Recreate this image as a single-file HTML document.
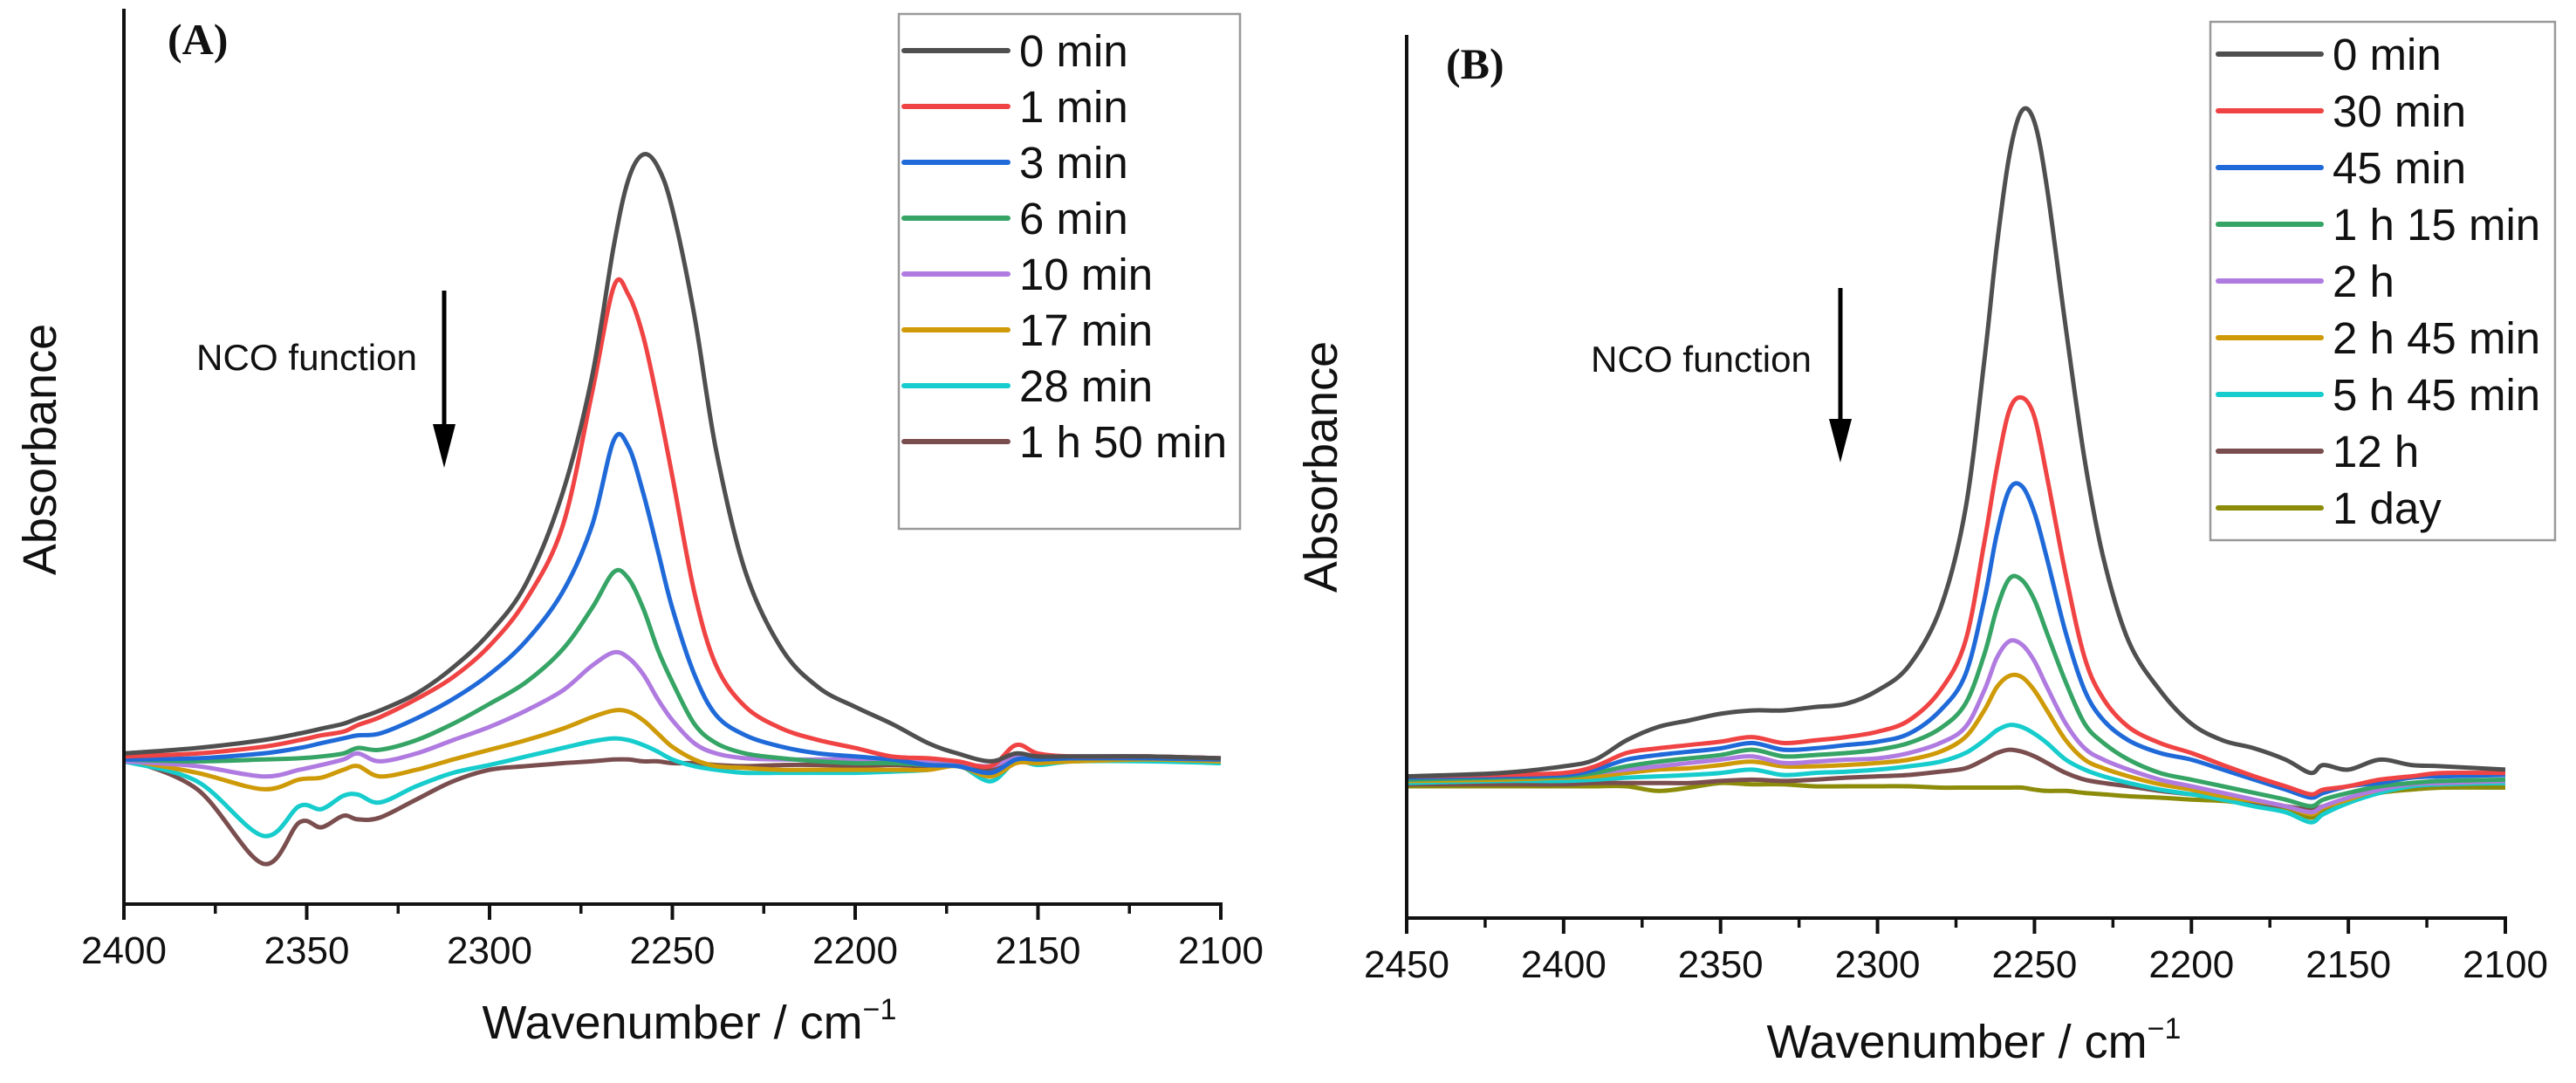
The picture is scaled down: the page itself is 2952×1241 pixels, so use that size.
<!DOCTYPE html>
<html><head><meta charset="utf-8"><style>
html,body{margin:0;padding:0;background:#fff;}
svg{display:block;font-family:"Liberation Sans",Arial,sans-serif;}
</style></head><body>
<svg id="chart" width="2952" height="1241" viewBox="0 0 2952 1241" xmlns="http://www.w3.org/2000/svg">
<g id="panelA"></g>
<g id="panelB"></g>
</svg>
<script>
// ---------- Panel A data ----------
const wavenumbersA = [2400,2380,2362,2352,2346,2340,2336,2330,2320,2310,2300,2290,2280,2272,2266,2262,2258,2254,2250,2244,2238,2230,2220,2210,2200,2190,2180,2172,2163,2156,2150,2140,2120,2100];
const seriesNamesA = ["0 min","1 min","3 min","6 min","10 min","17 min","28 min","1 h 50 min"];
const a0min  = [.005,.014,.027,.038,.046,.054,.063,.076,.104,.147,.204,.286,.436,.627,.845,.954,.995,.975,.905,.730,.505,.305,.177,.114,.082,.054,.022,.005,-.008,.005,0,0,0,-.003];
const a1min  = [0,.005,.016,.027,.035,.041,.052,.065,.095,.131,.183,.259,.381,.600,.777,.763,.695,.586,.463,.272,.150,.082,.046,.027,.014,0,-.003,-.008,-.016,.019,.005,0,0,-.003];
const a3min  = [-.005,-.003,.005,.014,.022,.030,.035,.038,.063,.095,.136,.191,.272,.381,.523,.512,.436,.341,.245,.136,.068,.035,.016,.005,0,-.005,-.014,-.016,-.027,-.005,-.005,-.003,-.003,-.005];
const a6min  = [-.005,-.008,-.005,-.003,0,.005,.014,.011,.027,.054,.087,.123,.177,.245,.305,.294,.245,.177,.123,.054,.022,.005,-.003,-.008,-.011,-.011,-.014,-.016,-.027,-.005,-.005,-.003,-.003,-.005];
const a10min = [-.008,-.016,-.033,-.022,-.014,-.005,.005,-.008,.005,.027,.049,.076,.109,.150,.172,.163,.136,.095,.060,.022,.005,-.003,-.005,-.005,-.005,-.008,-.008,-.011,-.016,0,-.003,0,0,-.003];
const a17min = [-.005,-.027,-.054,-.038,-.035,-.022,-.016,-.033,-.022,-.005,.011,.027,.046,.065,.076,.074,.060,.038,.016,-.005,-.016,-.019,-.022,-.022,-.022,-.022,-.022,-.016,-.033,-.011,-.011,-.008,-.005,-.008];
const a28min = [-.008,-.041,-.131,-.082,-.087,-.065,-.063,-.076,-.049,-.027,-.014,0,.014,.025,.030,.027,.019,.008,-.005,-.016,-.022,-.027,-.027,-.027,-.027,-.025,-.022,-.014,-.041,-.008,-.014,-.008,-.008,-.011];
const a110min= [-.003,-.054,-.177,-.109,-.117,-.098,-.104,-.101,-.071,-.041,-.022,-.016,-.011,-.008,-.005,-.005,-.008,-.008,-.011,-.011,-.014,-.016,-.014,-.014,-.016,-.014,-.016,-.011,-.022,-.005,-.008,-.003,-.003,-.005];
const ticksA = [2400,2350,2300,2250,2200,2150,2100];
const minorTicksA = [2375,2325,2275,2225,2175,2125];

// ---------- Panel B data ----------
const wavenumbersB = [2450,2420,2400,2390,2380,2370,2360,2350,2340,2330,2320,2310,2300,2290,2280,2272,2266,2262,2258,2254,2250,2246,2240,2234,2228,2220,2210,2200,2190,2180,2170,2162,2158,2150,2140,2130,2120,2100];
const seriesNamesB = ["0 min","30 min","45 min","1 h 15 min","2 h","2 h 45 min","5 h 45 min","12 h","1 day"];
const b0min   = [0,.005,.015,.025,.054,.074,.084,.094,.099,.099,.104,.109,.129,.166,.252,.401,.624,.797,.933,1.0,.983,.884,.673,.475,.327,.203,.129,.079,.054,.042,.025,.005,.017,.010,.025,.017,.015,.010];
const b30min  = [0,.002,.005,.015,.035,.042,.047,.052,.059,.050,.054,.059,.067,.084,.129,.203,.351,.463,.550,.569,.540,.450,.302,.178,.116,.074,.050,.035,.017,0,-.015,-.027,-.020,-.015,-.005,0,.005,.005];
const b45min  = [-.002,0,.002,.010,.025,.032,.037,.042,.050,.040,.042,.047,.052,.064,.099,.153,.265,.364,.431,.436,.396,.327,.215,.129,.084,.054,.035,.025,.010,-.005,-.020,-.032,-.025,-.015,-.010,-.002,0,.002];
const b1h15   = [-.005,-.002,0,.005,.015,.022,.027,.032,.040,.030,.032,.035,.040,.050,.072,.109,.183,.252,.297,.295,.265,.215,.141,.079,.050,.025,.005,-.005,-.015,-.025,-.035,-.045,-.035,-.025,-.015,-.010,-.007,-.005];
const b2h     = [-.005,-.002,0,.005,.010,.015,.020,.025,.030,.020,.022,.025,.027,.035,.050,.074,.129,.178,.203,.198,.173,.134,.079,.042,.025,.010,-.005,-.015,-.025,-.035,-.045,-.054,-.045,-.032,-.020,-.012,-.010,-.007];
const b2h45   = [-.007,-.005,-.002,0,.005,.010,.012,.017,.022,.015,.015,.017,.020,.025,.037,.059,.099,.134,.151,.149,.129,.099,.054,.025,.012,0,-.012,-.020,-.030,-.037,-.045,-.057,-.047,-.035,-.020,-.012,-.010,-.007];
const b5h45   = [-.010,-.007,-.007,-.005,-.002,0,.002,.005,.010,.002,.005,.007,.010,.015,.022,.035,.054,.069,.077,.074,.064,.050,.025,.010,0,-.010,-.020,-.027,-.035,-.045,-.054,-.069,-.057,-.040,-.025,-.015,-.012,-.010];
const b12h    = [-.012,-.012,-.012,-.010,-.010,-.010,-.010,-.007,-.005,-.007,-.005,-.002,0,.002,.007,.012,.025,.035,.040,.037,.030,.020,.005,-.005,-.010,-.015,-.022,-.027,-.032,-.040,-.045,-.050,-.045,-.035,-.022,-.015,-.012,-.010];
const b1day   = [-.015,-.015,-.015,-.015,-.015,-.022,-.017,-.010,-.012,-.012,-.015,-.015,-.015,-.015,-.017,-.017,-.017,-.017,-.017,-.017,-.020,-.022,-.022,-.025,-.027,-.030,-.032,-.035,-.037,-.042,-.047,-.062,-.050,-.037,-.025,-.020,-.017,-.017];
const ticksB = [2450,2400,2350,2300,2250,2200,2150,2100];
const minorTicksB = [2425,2375,2325,2275,2225,2175,2125];

const colorsA = ["#4f4f4f","#f04343","#1f6ad8","#35a465","#b07be0","#cf9a08","#16cccc","#7a4e4e"];
const colorsB = ["#4f4f4f","#f04343","#1f6ad8","#35a465","#b07be0","#cf9a08","#16cccc","#7a4e4e","#8c8c0a"];

const NS = "http://www.w3.org/2000/svg";
function mk(parent, tag, attrs, text){
  const e = document.createElementNS(NS, tag);
  for (const k in attrs) e.setAttribute(k, attrs[k]);
  if (text !== undefined) e.textContent = text;
  parent.appendChild(e);
  return e;
}
function smoothPath(pts){
  let d = "M" + pts[0][0].toFixed(1) + "," + pts[0][1].toFixed(1);
  for (let i = 0; i < pts.length - 1; i++){
    const p0 = pts[i-1] || pts[i], p1 = pts[i], p2 = pts[i+1], p3 = pts[i+2] || p2;
    const c1x = p1[0] + (p2[0]-p0[0])/6, c1y = p1[1] + (p2[1]-p0[1])/6;
    const c2x = p2[0] - (p3[0]-p1[0])/6, c2y = p2[1] - (p3[1]-p1[1])/6;
    d += " C" + c1x.toFixed(1)+","+c1y.toFixed(1)+" "+c2x.toFixed(1)+","+c2y.toFixed(1)+" "+p2[0].toFixed(1)+","+p2[1].toFixed(1);
  }
  return d;
}

function drawPanel(g, cfg){
  const xS = w => cfg.x0 + (cfg.w0 - w) / (cfg.w0 - cfg.w1) * (cfg.x1 - cfg.x0);
  const yS = v => cfg.yb + (v - cfg.vmin) / (cfg.vmax - cfg.vmin) * (cfg.yt - cfg.yb);

  const sg = mk(g, "g", {});
  
  
  for (let s = cfg.series.length - 1; s >= 0; s--){
    const pts = cfg.wn.map((w, i) => [xS(w), yS(cfg.series[s][i])]);
    const p = mk(sg, "path", {d: smoothPath(pts), fill: "none", stroke: cfg.colors[s], "stroke-width": 5, "stroke-linejoin": "round"});
    
    
  }

  const yAx = mk(g, "line", {x1: cfg.x0, y1: cfg.yt, x2: cfg.x0, y2: cfg.yb + 2, stroke: "#111", "stroke-width": 4});
  
  
  const xAx = mk(g, "line", {x1: cfg.x0 - 2, y1: cfg.yb, x2: cfg.x1 + 2, y2: cfg.yb, stroke: "#111", "stroke-width": 4});
  
  
  for (const t of cfg.ticks){
    const x = xS(t);
    const tk = mk(g, "line", {x1: x, y1: cfg.yb, x2: x, y2: cfg.yb + 18, stroke: "#111", "stroke-width": 4});
    
    
    const lb = mk(g, "text", {x: x, y: cfg.yb + 68, "font-size": 44, "text-anchor": "middle", fill: "#111"}, String(t));
    
    
  }
  for (const t of cfg.minor){
    const x = xS(t);
    const tk = mk(g, "line", {x1: x, y1: cfg.yb, x2: x, y2: cfg.yb + 11, stroke: "#111", "stroke-width": 3.5});
    
    
  }
  const xt = mk(g, "text", {x: cfg.xtX, y: cfg.xtY, "font-size": 54, "text-anchor": "middle", fill: "#111"});
  
  
  mk(xt, "tspan", {}, "Wavenumber / cm");
  mk(xt, "tspan", {dy: -22, "font-size": 34}, "\u22121");
  const yt = mk(g, "text", {x: 0, y: 0, "font-size": 54, "text-anchor": "middle", fill: "#111", transform: "translate(" + cfg.ytX + "," + cfg.ytY + ") rotate(-90)"}, "Absorbance");
  
  
  const pl = mk(g, "text", {x: cfg.plX, y: cfg.plY, "font-size": 50, "font-weight": "bold", "font-family": "Liberation Serif, serif", fill: "#111"}, cfg.label);
  
  
  const an = mk(g, "text", {x: cfg.ncoX, y: cfg.ncoY, "font-size": 42, fill: "#111", textLength: 253, lengthAdjust: "spacingAndGlyphs"}, "NCO function");
  
  
  const ar = mk(g, "line", {x1: cfg.arX, y1: cfg.arY0, x2: cfg.arX, y2: cfg.arY1 - 40, stroke: "#000", "stroke-width": 5});
  
  
  const ah = mk(g, "polygon", {points: (cfg.arX-13)+","+(cfg.arY1-50)+" "+(cfg.arX+13)+","+(cfg.arY1-50)+" "+cfg.arX+","+cfg.arY1, fill: "#000"});
  
  
  const lg = mk(g, "g", {});
  
  
  const lbx = mk(lg, "rect", {x: cfg.lgX0, y: cfg.lgY0, width: cfg.lgX1 - cfg.lgX0, height: cfg.lgY1 - cfg.lgY0, fill: "#fff", stroke: "#999", "stroke-width": 2.5});
  
  
  for (let s = 0; s < cfg.names.length; s++){
    const y = cfg.lgE0 + s * cfg.lgStep;
    const eg = mk(lg, "g", {});
    
    
    mk(eg, "line", {x1: cfg.lgL0, y1: y, x2: cfg.lgL1, y2: y, stroke: cfg.colors[s], "stroke-width": 6, "stroke-linecap": "round"});
    mk(eg, "text", {x: cfg.lgT, y: y + 18, "font-size": 51, fill: "#111"}, cfg.names[s]);
  }
}

drawPanel(document.getElementById("panelA"), {
  id: "panel-a", wn: wavenumbersA, series: [a0min,a1min,a3min,a6min,a10min,a17min,a28min,a110min],
  names: seriesNamesA, colors: colorsA, ticks: ticksA, minor: minorTicksA,
  x0: 142, x1: 1399, w0: 2400, w1: 2100, yb: 1036, yt: 10, vmin: -0.244, vmax: 1.236,
  xtX: 790, xtY: 1190, ytX: 64, ytY: 515, plX: 192, plY: 62, label: "(A)",
  ncoX: 225, ncoY: 424, arX: 509, arY0: 333, arY1: 536,
  lgX0: 1030, lgX1: 1421, lgY0: 16, lgY1: 606, lgE0: 58, lgStep: 64, lgL0: 1036, lgL1: 1155, lgT: 1168
});
drawPanel(document.getElementById("panelB"), {
  id: "panel-b", wn: wavenumbersB, series: [b0min,b30min,b45min,b1h15,b2h,b2h45,b5h45,b12h,b1day],
  names: seriesNamesB, colors: colorsB, ticks: ticksB, minor: minorTicksB,
  x0: 1612, x1: 2871, w0: 2450, w1: 2100, yb: 1052, yt: 40, vmin: -0.213, vmax: 1.114,
  xtX: 2262, xtY: 1212, ytX: 1532, ytY: 535, plX: 1657, plY: 90, label: "(B)",
  ncoX: 1823, ncoY: 426, arX: 2109, arY0: 330, arY1: 530,
  lgX0: 2533, lgX1: 2928, lgY0: 25, lgY1: 619, lgE0: 62, lgStep: 65, lgL0: 2542, lgL1: 2660, lgT: 2673
});
</script>
</body></html>
